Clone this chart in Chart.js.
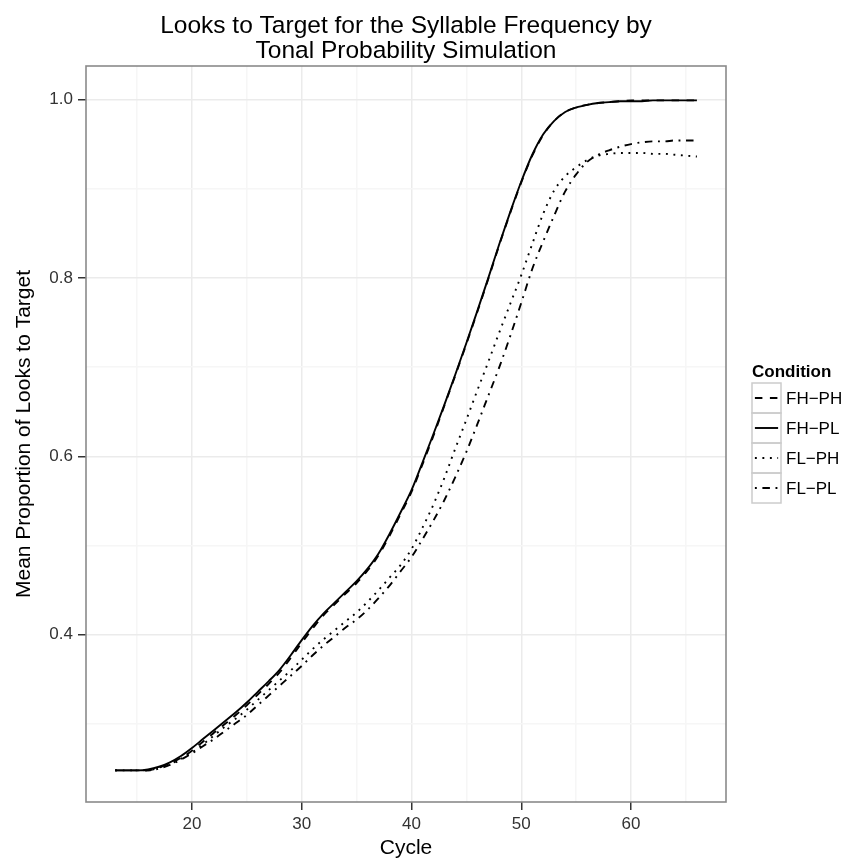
<!DOCTYPE html>
<html><head><meta charset="utf-8">
<script src="https://cdn.jsdelivr.net/npm/chart.js@4"></script>
<style>html,body{margin:0;padding:0;background:#fff}canvas{display:block}</style>
</head><body>
<canvas id="c" width="844" height="862"></canvas>
<script>
// ---- data ----
const cycles = [13,14,15,16,17,18,19,20,21,22,23,24,25,26,27,28,29,30,31,32,33,34,35,36,37,38,39,40,41,42,43,44,45,46,47,48,49,50,51,52,53,54,55,56,57,58,59,60,61,62,63,64,65,66];
const fhph = [.248,.248,.248,.248,.251,.256,.262,.270,.280,.290,.300,.310,.321,.333,.345,.358,.374,.391,.407,.422,.434,.446,.458,.472,.489,.511,.535,.560,.591,.623,.657,.691,.726,.762,.799,.837,.873,.907,.937,.960,.976,.986,.991,.994,.996,.997,.998,.999,.999,.999,.999,.999,.999,.999];
const fhpl = [.248,.248,.248,.249,.252,.257,.264,.273,.283,.293,.303,.313,.324,.336,.348,.361,.377,.394,.410,.424,.436,.448,.460,.474,.491,.513,.537,.562,.593,.625,.658,.692,.727,.763,.800,.838,.874,.908,.938,.961,.976,.986,.991,.994,.996,.997,.998,.998,.998,.999,.999,.999,.999,.999];
const flph = [.248,.248,.248,.248,.251,.255,.261,.268,.277,.287,.297,.306,.316,.327,.338,.349,.360,.372,.384,.395,.405,.415,.425,.437,.450,.464,.478,.496,.520,.546,.576,.609,.641,.674,.706,.739,.771,.803,.838,.872,.898,.914,.924,.932,.937,.939,.940,.940,.940,.939,.939,.938,.937,.936];
const flpl = [.248,.248,.248,.248,.250,.254,.260,.267,.275,.283,.292,.301,.310,.321,.332,.343,.354,.365,.377,.388,.398,.408,.417,.428,.441,.455,.471,.487,.507,.528,.551,.577,.605,.636,.668,.700,.735,.772,.810,.841,.870,.897,.916,.930,.938,.943,.947,.950,.952,.953,.953,.954,.954,.954];
const seriesLabels = ['FH\u2212PH','FH\u2212PL','FL\u2212PH','FL\u2212PL'];
const xMajor = [20,30,40,50,60];
const xMinor = [15,25,35,45,55,65];
const xTickLabels = ['20','30','40','50','60'];
const yMajor = [0.4,0.6,0.8,1.0];
const yMinor = [0.3,0.5,0.7,0.9];
const yTickLabels = ['0.4','0.6','0.8','1.0'];
const titleLines = ['Looks to Target for the Syllable Frequency by','Tonal Probability Simulation'];
const xTitle = 'Cycle';
const yTitle = 'Mean Proportion of Looks to Target';
const legendTitle = 'Condition';

// ---- styling ----
const FAM = '"Liberation Sans", Arial, Helvetica, sans-serif';
const seriesValues = [fhph, fhpl, flph, flpl];
const dashes = [[7.5,7.5], [], [1.9,5.6], [1.9,5.6,7.5,5.6]];

const ggDecor = {
  id: 'ggDecor',
  afterDraw(chart) {
    const {ctx, chartArea: a} = chart;
    ctx.save();
    ctx.setLineDash([]);
    ctx.strokeStyle = '#8a8a8a';
    ctx.lineWidth = 1.6;
    ctx.strokeRect(a.left, a.top, a.right - a.left, a.bottom - a.top);
    // title
    ctx.fillStyle = '#000';
    ctx.font = '24.5px ' + FAM;
    ctx.textAlign = 'center';
    ctx.textBaseline = 'alphabetic';
    const cx = (a.left + a.right) / 2;
    titleLines.forEach((t, i) => ctx.fillText(t, cx, 32.5 + 25 * i));
    // legend
    const lx = a.right + 26, ly0 = 383, kw = 29, kh = 30;
    ctx.textAlign = 'left';
    ctx.font = 'bold 17px ' + FAM;
    ctx.fillText(legendTitle, lx, 377);
    chart.data.datasets.forEach((ds, i) => {
      const y = ly0 + i * kh;
      ctx.setLineDash([]);
      ctx.strokeStyle = '#cccccc';
      ctx.lineWidth = 1.5;
      ctx.strokeRect(lx, y, kw, kh);
      ctx.strokeStyle = ds.borderColor;
      ctx.lineWidth = ds.borderWidth;
      ctx.setLineDash(ds.borderDash || []);
      ctx.beginPath();
      ctx.moveTo(lx + kw * 0.1, y + kh / 2);
      ctx.lineTo(lx + kw * 0.9, y + kh / 2);
      ctx.stroke();
      ctx.setLineDash([]);
      ctx.fillStyle = '#000';
      ctx.font = '17px ' + FAM;
      ctx.textBaseline = 'middle';
      ctx.fillText(ds.label, lx + kw + 5, y + kh / 2 + 1);
      ctx.textBaseline = 'alphabetic';
    });
    ctx.restore();
  }
};

new Chart(document.getElementById('c').getContext('2d'), {
  type: 'line',
  data: {
    datasets: seriesLabels.map((lab, i) => ({
      label: lab,
      data: cycles.map((c, j) => ({x: c, y: seriesValues[i][j]})),
      borderColor: '#000000',
      borderWidth: 1.9,
      borderDash: dashes[i],
      pointRadius: 0,
      fill: false,
      cubicInterpolationMode: 'monotone',
      order: 3 - i
    }))
  },
  options: {
    responsive: false,
    animation: false,
    devicePixelRatio: 1,
    layout: {padding: {top: 66, right: 118, left: 0, bottom: 0}},
    plugins: {legend: {display: false}, title: {display: false}, tooltip: {enabled: false}},
    scales: {
      x: {
        type: 'linear', min: 10.35, max: 68.65,
        afterBuildTicks: s => { s.ticks = [...xMinor, ...xMajor].sort((p, q) => p - q).map(v => ({value: v})); },
        afterFit: s => { s.height = 60; },
        ticks: {autoSkip: false, maxRotation: 0, minRotation: 0, padding: 4, color: '#333333',
          font: {family: FAM, size: 17},
          callback: v => { const k = xMajor.indexOf(v); return k >= 0 ? xTickLabels[k] : ''; }},
        grid: {
          color: c => xMajor.includes(c.tick && c.tick.value) ? '#ebebeb' : '#f6f6f6',
          lineWidth: 1.5, drawTicks: true, tickLength: 8, tickWidth: 1.5,
          tickColor: c => xMajor.includes(c.tick && c.tick.value) ? '#333333' : 'rgba(0,0,0,0)'
        },
        border: {display: false},
        title: {display: true, text: xTitle, color: '#000', font: {family: FAM, size: 21}, padding: {top: 0, bottom: 1}}
      },
      y: {
        type: 'linear', min: 0.2125, max: 1.0375,
        afterBuildTicks: s => { s.ticks = [...yMinor, ...yMajor].sort((p, q) => p - q).map(v => ({value: v})); },
        afterFit: s => { s.width = 86; },
        ticks: {autoSkip: false, padding: 5, color: '#333333',
          font: {family: FAM, size: 17},
          callback: v => { const k = yMajor.indexOf(v); return k >= 0 ? yTickLabels[k] : ''; }},
        grid: {
          color: c => yMajor.includes(c.tick && c.tick.value) ? '#ebebeb' : '#f6f6f6',
          lineWidth: 1.5, drawTicks: true, tickLength: 8, tickWidth: 1.5,
          tickColor: c => yMajor.includes(c.tick && c.tick.value) ? '#333333' : 'rgba(0,0,0,0)'
        },
        border: {display: false},
        title: {display: true, text: yTitle, color: '#000', font: {family: FAM, size: 21}, padding: {top: 11.6, bottom: 0}}
      }
    }
  },
  plugins: [ggDecor]
});
</script>
</body></html>
